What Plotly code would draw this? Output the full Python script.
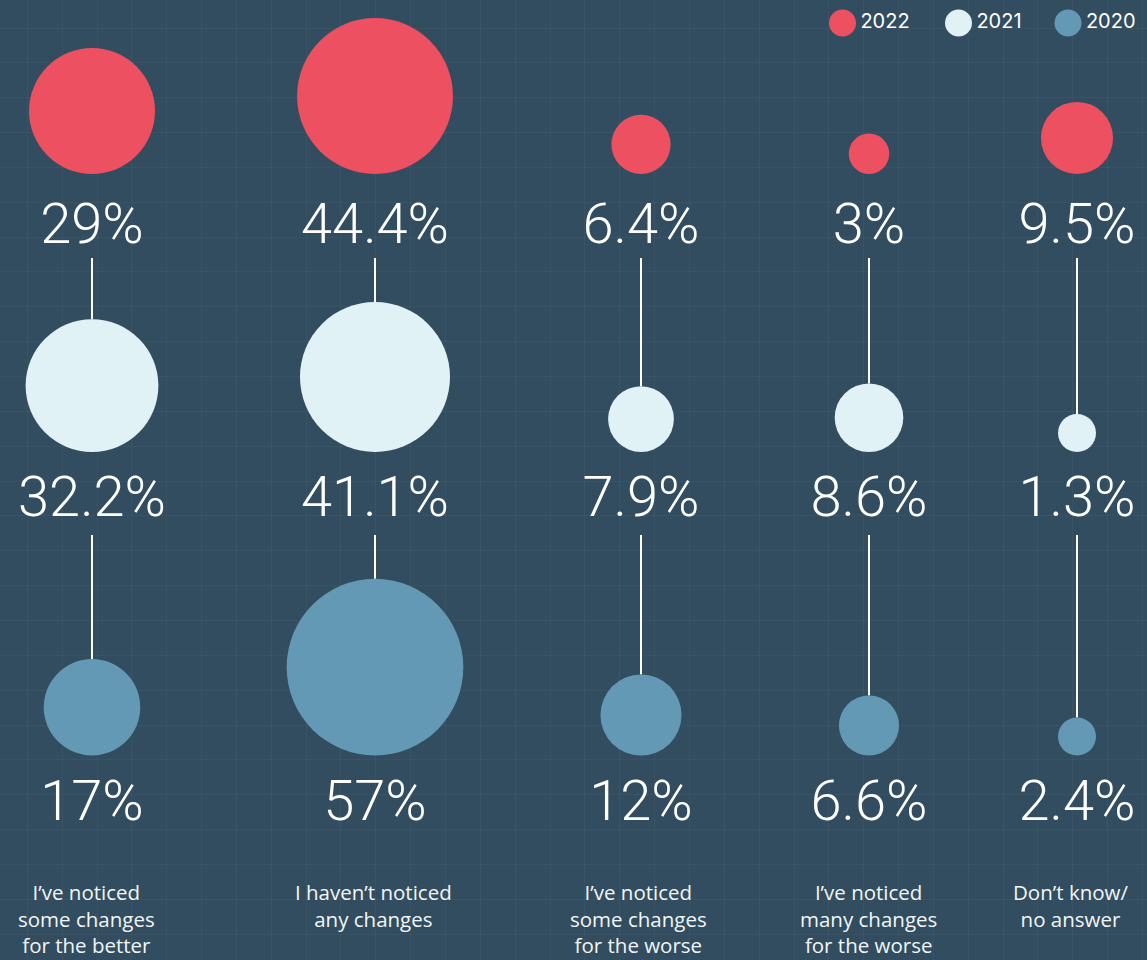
import plotly.graph_objects as go

# ── Data ────────────────────────────────────────────────────────────────────
categories = [
    "I’ve noticed<br>some changes<br>for the better",
    "I haven’t noticed<br>any changes",
    "I’ve noticed<br>some changes<br>for the worse",
    "I’ve noticed<br>many changes<br>for the worse",
    "Don’t know/<br>no answer",
]
years = ["2022", "2021", "2020"]
values_2022 = [29, 44.4, 6.4, 3, 9.5]
values_2021 = [32.2, 41.1, 7.9, 8.6, 1.3]
values_2020 = [17, 57, 12, 6.6, 2.4]

# ── Styling / layout constants ──────────────────────────────────────────────
W, H = 1147, 960
BG = "#314d5f"
GRID = "rgba(255,255,255,0.04)"
COLORS = {"2022": "#ec5061", "2021": "#e1f2f6", "2020": "#6499b5"}

col_x = [92, 375, 641, 869, 1077]          # column centres (px)
cat_x = [86, 373, 638, 868, 1070]          # category label centres (px)
row_bottom = [174, 452, 755.5]             # bubbles sit on these lines
row_label_y = [229, 502, 806]              # value label centres
connector_start = [258, 535]               # line starts under labels 1 & 2

NUM_FONT = dict(family="Roboto", size=56, color="white", weight=300)
CAT_FONT = dict(family="Open Sans", size=20.5, color="#f2f6f8")


def diam(v):
    """Bubble diameter in px — area ~ value, with a floor for tiny shares."""
    return max(38, 23.4 * v ** 0.5)


series = [values_2022, values_2021, values_2020]

fig = go.Figure()

# ── Connector lines (label → next bubble) ───────────────────────────────────
for i, (start, nxt) in enumerate(zip(connector_start, series[1:])):
    xs, ys = [], []
    for x, v in zip(col_x, nxt):
        xs += [x, x, None]
        ys += [start, row_bottom[i + 1] - diam(v), None]
    fig.add_trace(
        go.Scatter(
            x=xs, y=ys, mode="lines",
            line=dict(color="white", width=2),
            hoverinfo="skip", showlegend=False,
        )
    )

# ── Bubbles + value labels ──────────────────────────────────────────────────
for r, (year, vals) in enumerate(zip(years, series)):
    sizes = [diam(v) for v in vals]
    fig.add_trace(
        go.Scatter(
            x=col_x,
            y=[row_bottom[r] - s / 2 for s in sizes],
            mode="markers",
            marker=dict(size=sizes, sizemode="diameter", color=COLORS[year],
                        line=dict(width=0), opacity=1),
            name=year,
            hovertemplate="%{text}<extra>" + year + "</extra>",
            text=[f"{v:g}%" for v in vals],
            showlegend=False,
        )
    )
    fig.add_trace(
        go.Scatter(
            x=col_x,
            y=[row_label_y[r]] * len(vals),
            mode="text",
            text=[f"{v:g}%" for v in vals],
            textposition="middle center",
            textfont=NUM_FONT,
            hoverinfo="skip", showlegend=False,
        )
    )

# ── Category labels ─────────────────────────────────────────────────────────
for x, cat in zip(cat_x, categories):
    fig.add_annotation(
        x=x, y=876, xref="x", yref="y", text=cat, showarrow=False,
        xanchor="center", yanchor="top", align="center", font=CAT_FONT,
    )

# ── Custom legend (top right) ───────────────────────────────────────────────
legend_x = [842.5, 958.5, 1068]
for lx, year in zip(legend_x, years):
    fig.add_trace(
        go.Scatter(
            x=[lx], y=[23], mode="markers+text",
            marker=dict(size=27, color=COLORS[year], line=dict(width=0)),
            text=[year], textposition="middle right",
            textfont=dict(family="Inter", size=20, color="white"),
            hoverinfo="skip", showlegend=False,
        )
    )

fig.update_layout(
    width=W, height=H,
    margin=dict(l=0, r=0, t=0, b=0),
    paper_bgcolor=BG, plot_bgcolor=BG,
    showlegend=False,
    xaxis=dict(range=[0, W], showgrid=True, gridcolor=GRID, gridwidth=1,
               tick0=27.3, dtick=34.85, showticklabels=False,
               zeroline=False, fixedrange=True),
    yaxis=dict(range=[H, 0], showgrid=True, gridcolor=GRID, gridwidth=1,
               tick0=28, dtick=34.85, showticklabels=False,
               zeroline=False, fixedrange=True),
)

# page body has an 8px default margin; drop it so the chart fills the window
fig.write_html(
    "out.html",
    config={"displayModeBar": False},
    post_script="document.body.style.margin='0';document.body.style.overflow='hidden';",
)
